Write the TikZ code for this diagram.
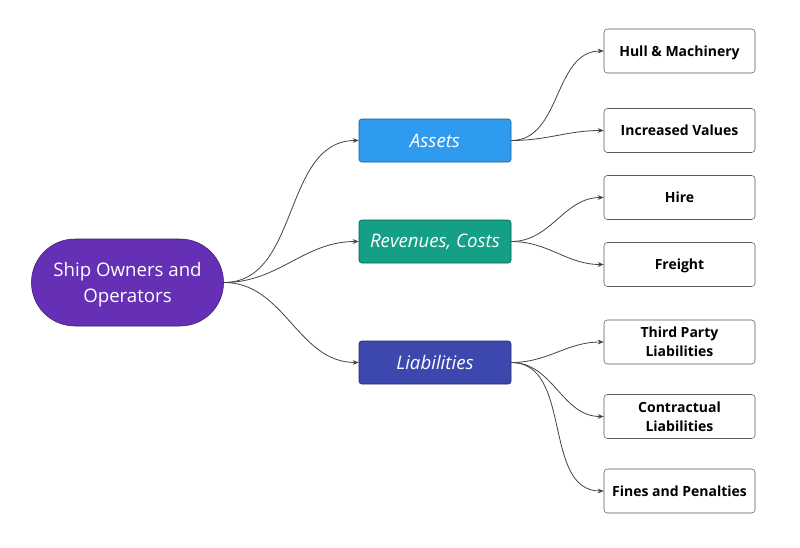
\documentclass[tikz,border=0pt]{standalone}
\usepackage{fontspec}
\setmainfont{Open Sans}
\usepackage{tikz}
\usetikzlibrary{arrows.meta}
\usetikzlibrary{shapes.misc}

\definecolor{ownerpurple}{HTML}{6530B5}
\definecolor{assetblue}{HTML}{2F9BEE}
\definecolor{revteal}{HTML}{13A086}
\definecolor{liabindigo}{HTML}{3D48AE}
\definecolor{linkgray}{HTML}{444444}

\tikzset{
  owner/.style={rounded rectangle, draw=ownerpurple!60!black, fill=ownerpurple, text=white,
    minimum width=150.75pt, minimum height=65.25pt, align=center, text depth=-2pt,
    font=\fontsize{14}{19.5}\selectfont},
  cover/.style={rectangle, rounded corners=2pt, draw=#1!60!black, fill=#1, text=white,
    minimum width=114pt, minimum height=32.25pt, font=\fontsize{14}{16}\selectfont\itshape},
  leaf/.style={rectangle, rounded corners=2.5pt, draw=black!65, fill=white, text=black,
    minimum width=113.25pt, minimum height=33pt, align=center, text depth=-2pt,
    font=\fontsize{10.5}{14.5}\selectfont\bfseries},
  link/.style={draw=linkgray, line width=0.6pt, -{Stealth[length=4.5pt,width=3.5pt]}}
}

\begin{document}
\begin{tikzpicture}[x=0.75pt,y=-0.75pt]
\useasboundingbox[fill=white] (0,0) rectangle (800,547);

% root and the three groups
\node[owner] (O) at (127.5,282.5) {Ship Owners and\\Operators};
\node[cover=assetblue] (A) at (435,140.5) {Assets};
\node[cover=revteal] (R) at (435,241.5) {Revenues, Costs};
\node[cover=liabindigo] (L) at (435,362.5) {Liabilities};

% leaves
\node[leaf] (HM) at (679.5,51) {Hull \& Machinery};
\node[leaf] (IV) at (679.5,130.5) {Increased Values};
\node[leaf] (H) at (679.5,197.5) {Hire};
\node[leaf] (F) at (679.5,264.5) {Freight};
\node[leaf] (TP) at (679.5,342) {Third Party\\Liabilities};
\node[leaf] (CL) at (679.5,416.5) {Contractual\\Liabilities};
\node[leaf] (FP) at (679.5,491) {Fines and Penalties};

\draw[link] (O.east) to[out=0,in=180] (A.west);
\draw[link] (O.east) to[out=0,in=180] (R.west);
\draw[link] (O.east) to[out=0,in=180] (L.west);

\draw[link] (A.east) to[out=0,in=180] (HM.west);
\draw[link] (A.east) to[out=0,in=180] (IV.west);
\draw[link] (R.east) to[out=0,in=180] (H.west);
\draw[link] (R.east) to[out=0,in=180] (F.west);
\draw[link] (L.east) to[out=0,in=180] (TP.west);
\draw[link] (L.east) to[out=0,in=180] (CL.west);
\draw[link] (L.east) to[out=0,in=180] (FP.west);
\end{tikzpicture}
\end{document}
